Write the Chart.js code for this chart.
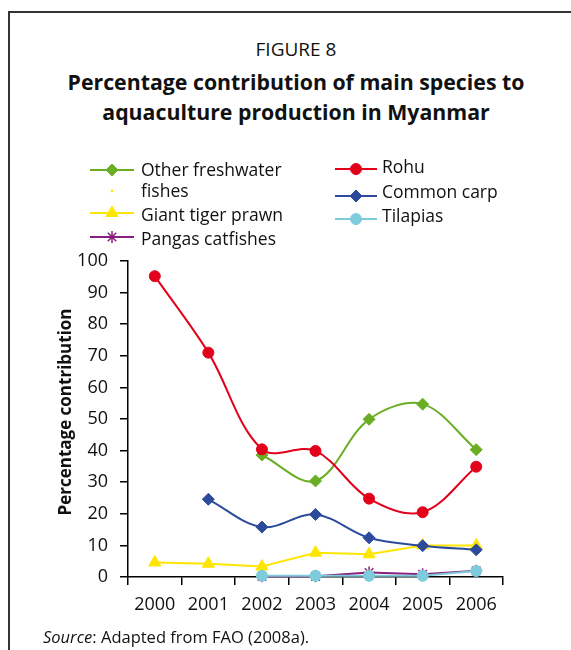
<!DOCTYPE html>
<html>
<head>
<meta charset="utf-8">
<script src="https://cdn.jsdelivr.net/npm/chart.js@4.4.1/dist/chart.umd.min.js"></script>
<style>
  html, body { margin: 0; padding: 0; background: #fff; }
  body { width: 571px; height: 650px; position: relative; overflow: hidden;
         font-family: 'Open Sans', sans-serif; color: #111; }
  #frame { position: absolute; left: 8px; top: 11px; width: 600px; height: 700px;
           border-top: 2px solid #333; border-left: 2px solid #333; }
  .head { position: absolute; left: 0; width: 592px; text-align: center; white-space: nowrap; line-height: 1; }
  #fig { top: 40px; font-size: 19px; }
  #title1 { top: 71px; font-size: 21.3px; font-weight: bold; }
  #title2 { top: 101px; font-size: 21.3px; font-weight: bold; }
  #source { position: absolute; left: 43px; top: 629px; font-size: 16.5px; line-height: 1; white-space: nowrap; }
  #chartBox { position: absolute; left: 0; top: 0; }
</style>
</head>
<body>
<div id="frame"></div>
<div class="head" id="fig">FIGURE 8</div>
<div class="head" id="title1">Percentage contribution of main species to</div>
<div class="head" id="title2">aquaculture production in Myanmar</div>
<div id="chartBox"><canvas id="c" width="571" height="650"></canvas></div>
<div id="source"><i>Source</i>: Adapted from FAO (2008a).</div>
<script>
// Years on the category axis
const years = ['2000', '2001', '2002', '2003', '2004', '2005', '2006'];

// Share of national aquaculture production, percent
const otherFreshwater = [null, null, 38.6, 30.4, 49.9, 54.7, 40.3];
const unnamedSeries   = [null, null, null, null, null, null, null];
const giantTigerPrawn = [4.6, 4.2, 3.3, 7.7, 7.2, 10.0, 10.0];
const pangasCatfishes = [null, null, 0.2, 0.2, 1.4, 0.9, 2.0];
const rohu            = [95.2, 71.0, 40.4, 39.9, 24.8, 20.5, 34.9];
const commonCarp      = [null, 24.6, 15.8, 19.8, 12.4, 9.9, 8.6];
const tilapias        = [null, null, 0.4, 0.4, 0.4, 0.4, 1.9];

// Value axis range
const yMin = 0, yMax = 100, yStep = 10;

const FONT = "'Open Sans', sans-serif";

function series(label, data, color, style, radius, tension) {
  return {
    label, data,
    borderColor: color, backgroundColor: color,
    pointBackgroundColor: color, pointBorderColor: color,
    pointStyle: style, pointRadius: radius, pointHoverRadius: radius,
    pointBorderWidth: style === 'star' ? 1.5 : 1,
    borderWidth: 2, tension, clip: false, fill: false
  };
}

const datasets = [
  series('Other freshwater fishes', otherFreshwater, '#6aae23', 'rectRot', 6, 0.35),
  series('', unnamedSeries, '#ffe600', 'circle', 1, 0),
  series('Giant tiger prawn', giantTigerPrawn, '#ffe600', 'triangle', 7, 0),
  series('Pangas catfishes', pangasCatfishes, '#8a1f7d', 'star', 6, 0),
  series('Rohu', rohu, '#e2001a', 'circle', 5.5, 0.35),
  series('Common carp', commonCarp, '#2d4b9b', 'rectRot', 6, 0.35),
  series('Tilapias', tilapias, '#7ecbdc', 'circle', 5.5, 0)
];
// later series sit on top
datasets.forEach((d, i) => { d.order = datasets.length - i; });
datasets[1].showLine = false;

// Legend key placement: two columns
const legendSlots = [
  { x0: 90,  x1: 134, ly: 170, tx: 141, ty: 171 },
  { x0: 90,  x1: 134, ly: 191, tx: 141, ty: 192, noLine: true },
  { x0: 90,  x1: 134, ly: 213, tx: 141, ty: 216 },
  { x0: 90,  x1: 134, ly: 237, tx: 141, ty: 240 },
  { x0: 335, x1: 377, ly: 169, tx: 382, ty: 168 },
  { x0: 335, x1: 377, ly: 196, tx: 382, ty: 193 },
  { x0: 335, x1: 377, ly: 219, tx: 382, ty: 217 }
];

const legendAndAxisTitle = {
  id: 'legendAndAxisTitle',
  afterDraw(chart) {
    const ctx = chart.ctx;
    ctx.save();
    chart.data.datasets.forEach((ds, i) => {
      const s = legendSlots[i];
      if (!s) return;
      if (!s.noLine) {
        ctx.strokeStyle = ds.borderColor;
        ctx.lineWidth = 2;
        ctx.beginPath();
        ctx.moveTo(s.x0, s.ly);
        ctx.lineTo(s.x1, s.ly);
        ctx.stroke();
      }
      ctx.fillStyle = ds.pointBackgroundColor;
      ctx.strokeStyle = ds.pointBorderColor;
      ctx.lineWidth = ds.pointBorderWidth;
      Chart.helpers.drawPoint(ctx, {
        pointStyle: ds.pointStyle, radius: ds.pointRadius, rotation: 0, borderWidth: ds.pointBorderWidth
      }, (s.x0 + s.x1) / 2, s.ly);
      if (ds.label) {
        ctx.fillStyle = '#111';
        ctx.font = '17.5px ' + FONT;
        ctx.textAlign = 'left';
        ctx.textBaseline = 'middle';
        const words = ds.label.split(' ');
        const lines = [];
        let cur = '';
        words.forEach(w => {
          const t = cur ? cur + ' ' + w : w;
          if (ctx.measureText(t).width > 160 && cur) { lines.push(cur); cur = w; }
          else cur = t;
        });
        lines.push(cur);
        lines.forEach((ln, k) => ctx.fillText(ln, s.tx, s.ty + k * 21));
      }
    });
    // value axis title
    ctx.translate(66, 412);
    ctx.rotate(-Math.PI / 2);
    ctx.fillStyle = '#111';
    ctx.font = 'bold 17px ' + FONT;
    ctx.textAlign = 'center';
    ctx.textBaseline = 'middle';
    ctx.fillText('Percentage contribution', 0, 0);
    ctx.restore();
  }
};

new Chart(document.getElementById('c'), {
  type: 'line',
  data: { labels: years, datasets },
  options: {
    responsive: false,
    animation: false,
    events: [],
    layout: { padding: { top: 261, right: 68, bottom: 0, left: 0 } },
    plugins: { legend: { display: false }, title: { display: false }, tooltip: { enabled: false } },
    scales: {
      x: {
        type: 'category',
        offset: true,
        grid: { display: true, offset: true, drawOnChartArea: false, drawTicks: true,
                tickLength: 8, color: '#000', lineWidth: 1.5 },
        border: { display: true, color: '#000', width: 1.5 },
        ticks: { color: '#111', font: { family: FONT, size: 18 }, padding: 9, maxRotation: 0 },
        afterFit(scale) { scale.height = 73; }
      },
      y: {
        min: yMin, max: yMax,
        grid: { display: true, drawOnChartArea: false, drawTicks: true,
                tickLength: 8, color: '#000', lineWidth: 1.5 },
        border: { display: true, color: '#000', width: 1.5 },
        ticks: { stepSize: yStep, color: '#111', font: { family: FONT, size: 18 }, padding: 12 },
        afterFit(scale) { scale.width = 128; }
      }
    }
  },
  plugins: [legendAndAxisTitle]
});
</script>
</body>
</html>
